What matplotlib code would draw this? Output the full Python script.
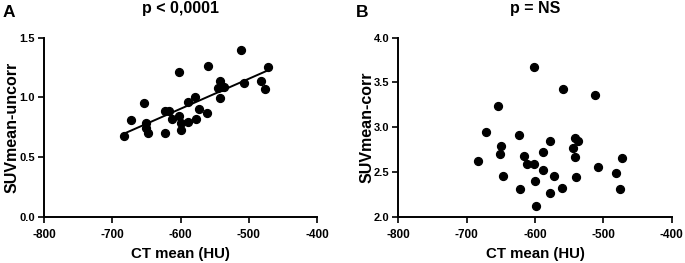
import numpy as np
import matplotlib
matplotlib.use("Agg")
import matplotlib.pyplot as plt

plt.rcParams['font.family'] = ['Liberation Sans', 'DejaVu Sans']
plt.rcParams['font.weight'] = 'bold'

ct_mean = [-683.5, -672, -653.5, -651, -650, -647.5, -623, -622, -616.5, -612,
           -602, -601.5, -600, -599, -589, -588.5, -578.5, -578, -572.5, -561,
           -559.5, -545, -542, -541.5, -540.2, -536.5, -511.5, -507, -482, -476, -472]
suv_uncorr = [0.68, 0.81, 0.95, 0.747, 0.785, 0.70, 0.883, 0.705, 0.886, 0.816,
              1.21, 0.84, 0.785, 0.724, 0.964, 0.797, 1.006, 0.819, 0.90, 0.869,
              1.26, 1.075, 1.14, 0.994, 1.086, 1.086, 1.40, 1.12, 1.136, 1.073, 1.256]
suv_corr = [2.62, 2.95, 3.24, 2.70, 2.785, 2.45, 2.91, 2.31, 2.68, 2.59,
            2.59, 3.67, 2.40, 2.12, 2.72, 2.52, 2.85, 2.26, 2.45, 2.32,
            3.43, 2.77, 2.874, 2.67, 2.44, 2.85, 3.36, 2.55, 2.49, 2.31, 2.66]

x_ticks = [-800, -700, -600, -500, -400]
yA_ticks = [0.0, 0.5, 1.0, 1.5]
yB_ticks = [2.0, 2.5, 3.0, 3.5, 4.0]

W, H = 685, 263
fig = plt.figure(figsize=(6.85, 2.63), dpi=100)
axA = fig.add_axes([44/W, (H-216.7)/H, 273/W, 179/H])
axB = fig.add_axes([398.5/W, (H-216.7)/H, 273/W, 179/H])

def style(ax, yticks, ylabel, title):
    ax.set_xlim(-800, -400)
    ax.set_ylim(yticks[0], yticks[-1])
    ax.set_xticks(x_ticks)
    ax.set_yticks(yticks)
    ax.set_xticklabels([str(t) for t in x_ticks])
    ax.set_yticklabels([f"{t:.1f}" for t in yticks])
    for s in ['top', 'right']:
        ax.spines[s].set_visible(False)
    for s in ['left', 'bottom']:
        ax.spines[s].set_linewidth(1.4)
    ax.tick_params(direction='out', length=4.5, width=1.2)
    ax.tick_params(axis='x', pad=4.5, labelsize=8.5)
    ax.tick_params(axis='y', pad=2, labelsize=8)
    for lab in ax.get_xticklabels() + ax.get_yticklabels():
        lab.set_fontweight('bold')
    ax.set_xlabel("CT mean (HU)", fontsize=10.8, fontweight='bold', labelpad=4)
    ax.set_ylabel(ylabel, fontsize=11.5, fontweight='bold')
    ax.yaxis.set_label_coords(-0.088, 0.5)
    bb = ax.get_position()
    fig.text((bb.x0 + bb.x1) / 2, 1 - 13.3/H, title, fontsize=11.5, fontweight='bold',
             ha='center', va='baseline')

axA.scatter(ct_mean, suv_uncorr, s=32, color='black', zorder=3, clip_on=False)
coef = np.polyfit(ct_mean, suv_uncorr, 1)
xl = np.array([min(ct_mean), max(ct_mean)])
axA.plot(xl, np.polyval(coef, xl), color='black', lw=1.4, zorder=2)
style(axA, yA_ticks, "SUVmean-uncorr", "p < 0,0001")

axB.scatter(ct_mean, suv_corr, s=32, color='black', zorder=3, clip_on=False)
style(axB, yB_ticks, "SUVmean-corr", "p = NS")

fig.text(2.5/W, 1 - 17.3/H, "A", fontsize=12.5, fontweight='bold', va='baseline', ha='left')
fig.text(356/W, 1 - 17.3/H, "B", fontsize=12.5, fontweight='bold', va='baseline', ha='left')

fig.savefig("out.png", dpi=100)
